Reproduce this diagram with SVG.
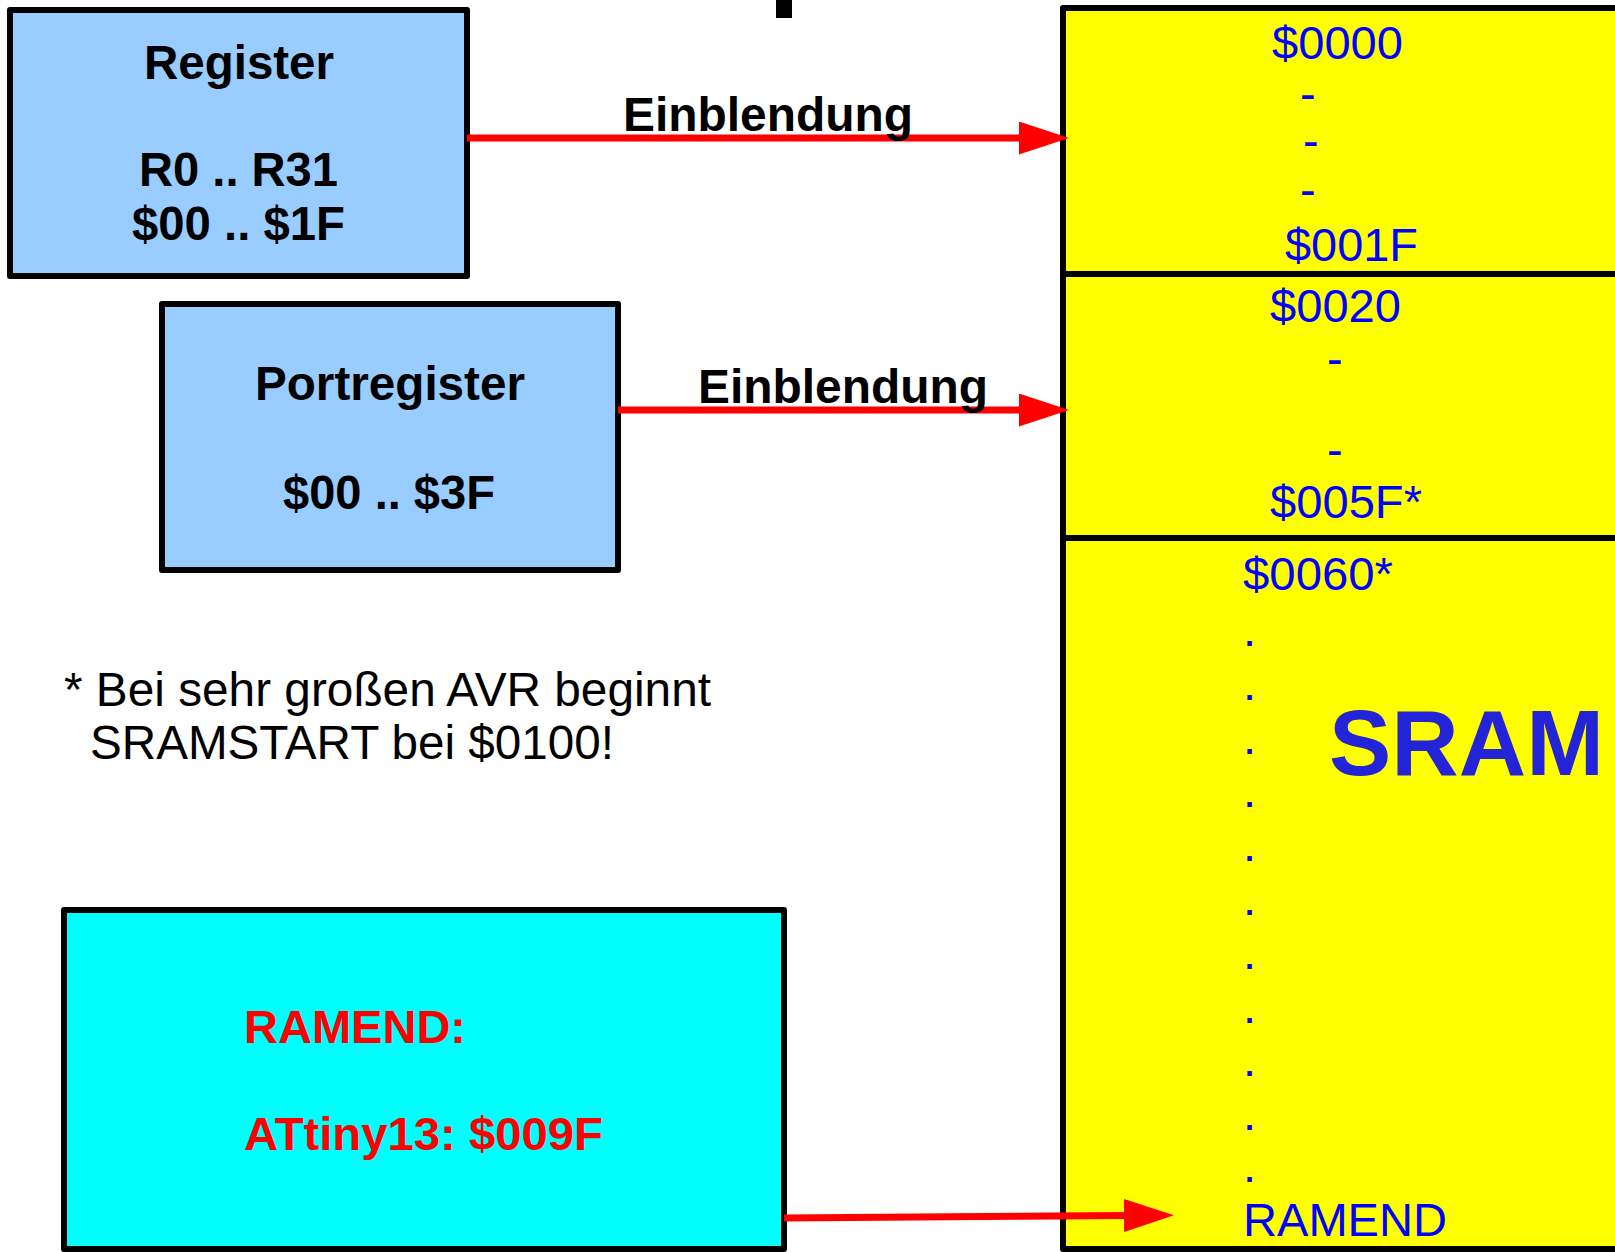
<svg xmlns="http://www.w3.org/2000/svg" width="1615" height="1252" viewBox="0 0 1615 1252">
<style>
.box{stroke:#000;stroke-width:6;stroke-linejoin:round}
.bt{font-family:"Liberation Sans",Arial,sans-serif;font-weight:bold;font-size:48px;fill:#000}
.mt{font-family:"Liberation Sans",Arial,sans-serif;font-size:47px;fill:#0000ff}
.rt{font-family:"Liberation Sans",Arial,sans-serif;font-weight:bold;font-size:46px;fill:#ff0000}
.ft{font-family:"Liberation Sans",Arial,sans-serif;font-size:48px;fill:#000}
.conn{stroke:#ff0000;stroke-width:7;fill:none}
</style>
<defs>
<marker id="ah" viewBox="0 0 50 33" markerWidth="50" markerHeight="33" refX="5" refY="16.5" markerUnits="userSpaceOnUse" orient="auto">
<path d="M0,0 L50,16.5 L0,33 z" fill="#ff0000"/>
</marker>
</defs>
<rect width="1615" height="1252" fill="#fff"/>
<rect x="776" y="0" width="16" height="18" fill="#000"/>

<g id="memory">
<rect x="1063" y="8" width="580" height="1241" fill="#ffff00" class="box"/>
<line x1="1063" y1="274" x2="1620" y2="274" stroke="#000" stroke-width="6"/>
<line x1="1063" y1="538" x2="1620" y2="538" stroke="#000" stroke-width="6"/>
<text class="mt" x="1272" y="59" textLength="131" lengthAdjust="spacingAndGlyphs">$0000</text>
<text class="mt" x="1300" y="110">-</text>
<text class="mt" x="1303" y="157">-</text>
<text class="mt" x="1300" y="206">-</text>
<text class="mt" x="1285" y="261" textLength="133" lengthAdjust="spacingAndGlyphs">$001F</text>
<text class="mt" x="1270" y="322" textLength="131" lengthAdjust="spacingAndGlyphs">$0020</text>
<text class="mt" x="1327" y="375">-</text>
<text class="mt" x="1327" y="466">-</text>
<text class="mt" x="1270" y="518" textLength="152" lengthAdjust="spacingAndGlyphs">$005F*</text>
<text class="mt" x="1243" y="590" textLength="150" lengthAdjust="spacingAndGlyphs">$0060*</text>
<text class="mt" x="1243" y="646">.</text>
<text class="mt" x="1243" y="700">.</text>
<text class="mt" x="1243" y="754">.</text>
<text class="mt" x="1243" y="807">.</text>
<text class="mt" x="1243" y="861">.</text>
<text class="mt" x="1243" y="915">.</text>
<text class="mt" x="1243" y="969">.</text>
<text class="mt" x="1243" y="1023">.</text>
<text class="mt" x="1243" y="1076">.</text>
<text class="mt" x="1243" y="1130">.</text>
<text class="mt" x="1243" y="1182">.</text>
<text x="1329" y="775" font-family="Liberation Sans,Arial,sans-serif" font-weight="bold" font-size="93" fill="#2323d8" textLength="275" lengthAdjust="spacingAndGlyphs">SRAM</text>
<text class="mt" x="1243" y="1236" textLength="204" lengthAdjust="spacingAndGlyphs">RAMEND</text>
</g>

<g id="register">
<rect x="10" y="10" width="457" height="266" fill="#99ccff" class="box"/>
<text class="bt" x="144" y="79" textLength="190" lengthAdjust="spacingAndGlyphs">Register</text>
<text class="bt" x="139" y="186" textLength="199" lengthAdjust="spacingAndGlyphs">R0 .. R31</text>
<text class="bt" x="132" y="240" textLength="213" lengthAdjust="spacingAndGlyphs">$00 .. $1F</text>
</g>

<g id="portregister">
<rect x="162" y="304" width="456" height="266" fill="#99ccff" class="box"/>
<text class="bt" x="255" y="400" textLength="270" lengthAdjust="spacingAndGlyphs">Portregister</text>
<text class="bt" x="283" y="509" textLength="212" lengthAdjust="spacingAndGlyphs">$00 .. $3F</text>
</g>

<g id="ramend">
<rect x="64" y="910" width="720" height="339" fill="#00ffff" class="box"/>
<text class="rt" x="244" y="1043" textLength="222" lengthAdjust="spacingAndGlyphs">RAMEND:</text>
<text class="rt" x="244" y="1150" textLength="359" lengthAdjust="spacingAndGlyphs">ATtiny13: $009F</text>
</g>

<g id="footnote">
<text class="ft" x="64" y="706" textLength="647" lengthAdjust="spacingAndGlyphs">* Bei sehr großen AVR beginnt</text>
<text class="ft" x="90" y="759" textLength="524" lengthAdjust="spacingAndGlyphs">SRAMSTART bei $0100!</text>
</g>

<g id="connectors">
<line class="conn" x1="467" y1="138" x2="1024" y2="138" marker-end="url(#ah)"/>
<line class="conn" x1="618" y1="410" x2="1024" y2="410" marker-end="url(#ah)"/>
<line class="conn" x1="784" y1="1218" x2="1129" y2="1215.5" marker-end="url(#ah)"/>
<text class="bt" x="623" y="131" font-size="46" textLength="290" lengthAdjust="spacingAndGlyphs">Einblendung</text>
<text class="bt" x="698" y="403" font-size="46" textLength="290" lengthAdjust="spacingAndGlyphs">Einblendung</text>
</g>
</svg>
